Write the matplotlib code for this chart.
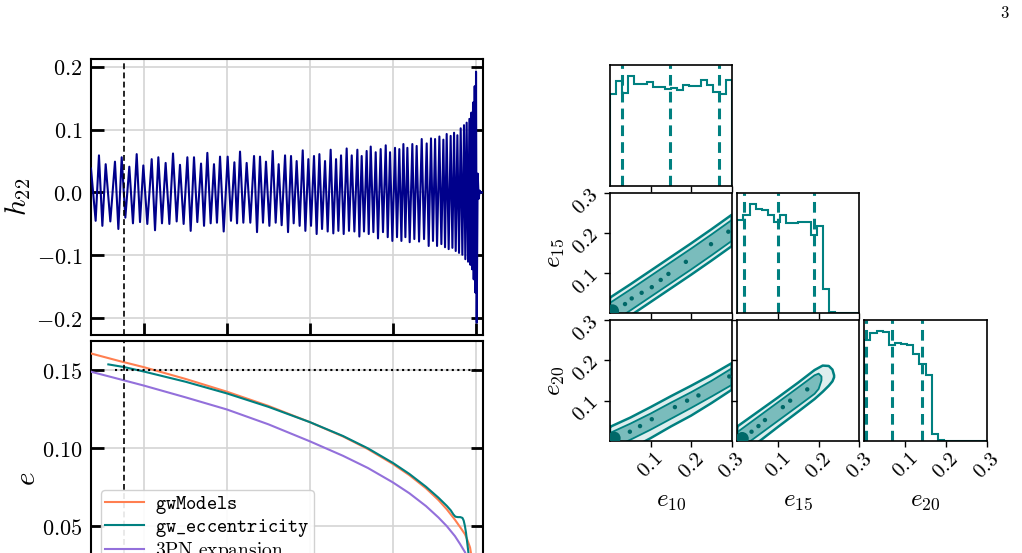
import numpy as np
import matplotlib
matplotlib.use("Agg")
import matplotlib.pyplot as plt
from matplotlib.ticker import FixedLocator, FuncFormatter

plt.rcParams['mathtext.fontset'] = 'cm'
plt.rcParams['font.family'] = ['DejaVu Serif']

# ---------------- data: h22 waveform extrema ----------------
h22_start_t = [-4639]
h22_start_h = [0.038]
h22_max_t = [-4543, -4462, -4350, -4269, -4177, -4088, -4008, -3907, -3827, -3739,
             -3650, -3566, -3477, -3397, -3312, -3236, -3156, -3083, -2991, -2910,
             -2842, -2762, -2673, -2601, -2529, -2448, -2376, -2299, -2227, -2159,
             -2086, -2018, -1950, -1885, -1817, -1749, -1684, -1624, -1556, -1495,
             -1427, -1375, -1315, -1266, -1206, -1146, -1085, -1033, -973, -921,
             -872, -824, -764, -712, -651, -591, -539, -490, -438, -390,
             -350, -302, -261, -221, -181, -141, -109, -76, -52, -32, -12, 4]
h22_max_h = [0.059, 0.045, 0.049, 0.056, 0.041, 0.061, 0.043, 0.053, 0.056, 0.047,
             0.062, 0.044, 0.056, 0.056, 0.046, 0.063, 0.045, 0.057, 0.057, 0.048,
             0.065, 0.047, 0.058, 0.057, 0.049, 0.066, 0.045, 0.059, 0.058, 0.050,
             0.067, 0.053, 0.058, 0.061, 0.050, 0.068, 0.053, 0.059, 0.070, 0.059,
             0.068, 0.058, 0.066, 0.073, 0.064, 0.069, 0.075, 0.064, 0.071, 0.069,
             0.077, 0.071, 0.077, 0.074, 0.085, 0.078, 0.086, 0.085, 0.089, 0.084,
             0.093, 0.090, 0.095, 0.091, 0.102, 0.107, 0.111, 0.117, 0.127, 0.143, 0.169, 0.192]
h22_min_t = [-4583, -4502, -4406, -4309, -4225, -4133, -4048, -3960, -3867, -3783,
             -3694, -3606, -3522, -3437, -3357, -3276, -3196, -3120, -3039, -2951,
             -2878, -2802, -2718, -2637, -2565, -2488, -2412, -2340, -2263, -2195,
             -2123, -2054, -1986, -1918, -1853, -1785, -1717, -1656, -1592, -1528,
             -1463, -1403, -1347, -1290, -1234, -1178, -1118, -1061, -1005, -949,
             -896, -848, -796, -740, -683, -623, -567, -515, -466, -414,
             -370, -326, -281, -241, -201, -161, -125, -92, -64, -44, -24, -4, 12]
h22_min_h = [-0.045, -0.053, -0.046, -0.058, -0.040, -0.049, -0.047, -0.050, -0.060, -0.049,
             -0.050, -0.046, -0.050, -0.061, -0.047, -0.053, -0.049, -0.048, -0.062, -0.045,
             -0.049, -0.048, -0.048, -0.063, -0.048, -0.053, -0.048, -0.052, -0.063, -0.049,
             -0.053, -0.061, -0.053, -0.066, -0.058, -0.062, -0.065, -0.061, -0.066, -0.061,
             -0.062, -0.070, -0.062, -0.066, -0.063, -0.073, -0.063, -0.071, -0.077, -0.071,
             -0.077, -0.071, -0.079, -0.074, -0.078, -0.074, -0.085, -0.077, -0.085, -0.082,
             -0.087, -0.090, -0.088, -0.093, -0.096, -0.099, -0.106, -0.110, -0.115, -0.122,
             -0.138, -0.159, -0.207]
h22_tail_t = [24, 36, 48, 60, 88]
h22_tail_h = [0.03, -0.01, 0.003, 0.0, 0.0]
t_ref = -4241          # dashed vertical marker
e_ref = 0.15           # dotted horizontal marker
e_ref_t = [-4350, 0]

# ---------------- data: eccentricity curves ----------------
gwm_t = [-4639, -4300, -4000, -3500, -3000, -2500, -2000, -1600, -1300, -1000, -800, -600,
         -450, -350, -250, -180, -129, -100, -68, -30, 0]
gwm_e = [0.1606, 0.1558, 0.1518, 0.1443, 0.1361, 0.1270, 0.1166, 0.1074, 0.0993, 0.0898,
         0.0826, 0.0742, 0.0667, 0.0608, 0.0540, 0.0487, 0.0447, 0.0410, 0.0362, 0.0240, 0.0]
gwe_t = [-4430, -4241, -4000, -3500, -3000, -2500, -2000, -1600, -1300, -1000, -800, -600,
         -450, -350, -300, -270, -245, -215, -185, -160, -145, -130, -117, -100, -88, -60, -30, 0]
gwe_e = [0.1536, 0.1519, 0.1490, 0.1425, 0.1350, 0.1264, 0.1166, 0.1077, 0.0998, 0.0905,
         0.0834, 0.0752, 0.0682, 0.0630, 0.0600, 0.0575, 0.0560, 0.0557, 0.0557, 0.0552,
         0.0535, 0.0500, 0.0457, 0.0383, 0.0330, 0.0240, 0.0140, 0.0]
pn_t = [-4639, -4300, -4000, -3500, -3000, -2500, -2000, -1600, -1300, -1000, -800, -600,
        -450, -350, -250, -189, -129, -80, -30, 0]
pn_e = [0.1489, 0.1442, 0.1400, 0.1325, 0.1247, 0.1152, 0.1043, 0.0950, 0.0872, 0.0780,
        0.0710, 0.0628, 0.0555, 0.0500, 0.0435, 0.0385, 0.0332, 0.0267, 0.0176, 0.0]
legend_labels = [r'$\mathtt{gwModels}$', r'$\mathtt{gw\_eccentricity}$', r'$\mathrm{3PN\ expansion}$']

# ---------------- data: corner plot ----------------
par_labels = [r'$e_{10}$', r'$e_{15}$', r'$e_{20}$']
corner_ticks = [0.1, 0.2, 0.3]
hist_e10 = [278, 315, 281, 331, 308, 308, 312, 299, 298, 291, 294, 288, 304, 301, 300, 318, 303, 283, 276, 320]
hist_e15 = [280, 297, 330, 315, 312, 295, 275, 297, 272, 273, 275, 275, 235, 262, 72, 5, 2, 0, 0, 0]
hist_e20 = [303, 326, 331, 328, 290, 296, 293, 288, 263, 233, 198, 20, 4, 1, 0, 0, 0, 0, 0, 0]
quant_e10 = [0.030, 0.148, 0.269]
quant_e15 = [0.017, 0.099, 0.189]
quant_e20 = [0.004, 0.068, 0.142]

# contour bands (e_x, upper/lower boundaries)
b1015_x = [0.0, 0.05, 0.10, 0.15, 0.20, 0.25, 0.30]
b1015_out_hi = [0.039, 0.072, 0.106, 0.140, 0.174, 0.209, 0.245]
b1015_out_lo = [-0.039, -0.006, 0.028, 0.062, 0.096, 0.131, 0.167]
b1015_in_hi = [0.026, 0.059, 0.093, 0.127, 0.161, 0.196, 0.232]
b1015_in_lo = [-0.026, 0.007, 0.041, 0.075, 0.109, 0.144, 0.180]
d1015_x = [0.037, 0.0535, 0.078, 0.103, 0.125, 0.144, 0.187, 0.249, 0.2917]
d1015_y = [0.023, 0.037, 0.051, 0.065, 0.083, 0.098, 0.128, 0.172, 0.203]

b1020_x = [0.0, 0.05, 0.10, 0.15, 0.20, 0.25, 0.30]
b1020_out_hi = [0.035, 0.058, 0.084, 0.111, 0.137, 0.164, 0.193]
b1020_out_lo = [-0.040, -0.020, 0.007, 0.036, 0.063, 0.094, 0.127]
b1020_in_hi = [0.020, 0.043, 0.068, 0.095, 0.121, 0.149, 0.180]
b1020_in_lo = [-0.020, 0.003, 0.028, 0.055, 0.082, 0.110, 0.139]
d1020_x = [0.049, 0.074, 0.103, 0.160, 0.190, 0.218, 0.294]
d1020_y = [0.023, 0.037, 0.054, 0.084, 0.100, 0.113, 0.160]

b1520_x = [0.0, 0.05, 0.10, 0.15, 0.19, 0.21, 0.225, 0.234, 0.238]
b1520_out_hi = [0.036, 0.072, 0.108, 0.145, 0.176, 0.187, 0.186, 0.177, 0.163]
b1520_out_lo = [-0.042, -0.004, 0.035, 0.073, 0.104, 0.122, 0.137, 0.148, 0.158]
b1520_in_x = [0.0, 0.05, 0.10, 0.15, 0.19, 0.20, 0.207]
b1520_in_hi = [0.022, 0.059, 0.096, 0.133, 0.163, 0.167, 0.160]
b1520_in_lo = [-0.024, 0.013, 0.050, 0.087, 0.117, 0.129, 0.150]
d1520_x = [0.035, 0.052, 0.068, 0.112, 0.130, 0.172]
d1520_y = [0.023, 0.037, 0.052, 0.084, 0.100, 0.128]
blob_xy = {(1, 0): (0.006, 0.006), (2, 0): (0.010, 0.007), (2, 1): (0.012, 0.006)}

# ---------------- figure ----------------
W, H = 1022, 553
fig = plt.figure(figsize=(W / 100, H / 100), dpi=100)


def ax_px(x0, y0, x1, y1):
    return fig.add_axes([x0 / W, 1 - y1 / H, (x1 - x0) / W, (y1 - y0) / H])


TEAL = '#008080'
GRID = '#d4d4d4'

# ---- top: waveform ----
ax1 = ax_px(91, 59.3, 483, 335)
t_all = np.concatenate([h22_start_t, h22_max_t, h22_min_t, h22_tail_t])
h_all = np.concatenate([h22_start_h, h22_max_h, h22_min_h, h22_tail_h])
order = np.argsort(t_all, kind='stable')
ax1.plot(t_all[order], h_all[order], color='#00008B', lw=1.5, zorder=3)
ax1.axvline(t_ref, color='k', lw=1.2, ls=(0, (3.5, 2)), zorder=4)
ax1.set_xlim(-4639, 88)
ax1.set_ylim(-0.2265, 0.2117)
ax1.set_yticks([-0.2, -0.1, 0.0, 0.1, 0.2])
ax1.yaxis.set_major_formatter(FuncFormatter(lambda v, p: f'${v:.1f}$'))
ax1.set_xticks([-4000, -3000, -2000, -1000, 0])
ax1.set_xticklabels([])
ax1.set_ylabel(r'$h_{22}$', fontsize=21, labelpad=2)

# ---- bottom: eccentricity ----
ax2 = ax_px(91, 341, 483, 616.5)
l1, = ax2.plot(gwm_t, gwm_e, color='#FF7F50', lw=1.5, zorder=3)
l2, = ax2.plot(gwe_t, gwe_e, color=TEAL, lw=1.5, zorder=3)
l3, = ax2.plot(pn_t, pn_e, color='#9370DB', lw=1.5, zorder=3)
ax2.axvline(t_ref, color='k', lw=1.2, ls=(0, (3.5, 2)), zorder=4)
ax2.hlines(e_ref, e_ref_t[0], e_ref_t[1], color='k', lw=1.5, ls=':', zorder=4)
ax2.set_xlim(-4639, 88)
ax2.set_ylim(-0.008, 0.1686)
ax2.set_yticks([0.05, 0.10, 0.15])
ax2.yaxis.set_major_formatter(FuncFormatter(lambda v, p: f'${v:.2f}$'))
ax2.set_xticks([-4000, -3000, -2000, -1000, 0])
ax2.set_xticklabels([])
ax2.set_ylabel(r'$e$', fontsize=21, labelpad=1)
leg = ax2.legend([l1, l2, l3], legend_labels, loc='upper left',
                 bbox_to_anchor=(0.0255, 0.458), borderaxespad=0, fontsize=14,
                 labelspacing=0.05, handlelength=2.0, handletextpad=0.6,
                 borderpad=0.2, framealpha=0.9, edgecolor='#cccccc', fancybox=True)

for ax in (ax1, ax2):
    ax.grid(True, color=GRID, lw=1.2)
    ax.set_axisbelow(True)
    ax.tick_params(direction='in', length=9, width=2, right=True, top=False,
                   labelsize=16, pad=6)
    for s in ax.spines.values():
        s.set_linewidth(1.5)

# ---- corner plot ----
cols = [(610, 731.7), (737.3, 859.3), (864.3, 986.7)]
rows = [(65, 186), (192.7, 313.3), (320, 441)]
edges = np.linspace(0, 0.3, 21)
hists = [hist_e10, hist_e15, hist_e20]
quants = [quant_e10, quant_e15, quant_e20]
bands = {
    (1, 0): (b1015_x, b1015_out_hi, b1015_out_lo, b1015_x, b1015_in_hi, b1015_in_lo, d1015_x, d1015_y),
    (2, 0): (b1020_x, b1020_out_hi, b1020_out_lo, b1020_x, b1020_in_hi, b1020_in_lo, d1020_x, d1020_y),
    (2, 1): (b1520_x, b1520_out_hi, b1520_out_lo, b1520_in_x, b1520_in_hi, b1520_in_lo, d1520_x, d1520_y),
}
tick_fmt = FuncFormatter(lambda v, p: f'${v:.1f}$')

for i in range(3):
    for j in range(i + 1):
        ax = ax_px(cols[j][0], rows[i][0], cols[j][1], rows[i][1])
        for s in ax.spines.values():
            s.set_linewidth(1.2)
        ax.tick_params(direction='out', length=4, width=1, labelsize=15, pad=2)
        ax.set_xlim(0, 0.3)
        ax.xaxis.set_major_locator(FixedLocator(corner_ticks))
        ax.xaxis.set_major_formatter(tick_fmt)
        if i == j:
            cnt = hists[i]
            ax.stairs(cnt, edges, color=TEAL, lw=1.5)
            ax.set_ylim(0, 1.1 * max(cnt))
            for q in quants[i]:
                ax.axvline(q, color=TEAL, lw=2.2, ls=(0, (3.5, 2)))
            ax.set_yticks([])
        else:
            bx, ohi, olo, ix, ihi, ilo, dx, dy = bands[(i, j)]
            ax.fill(np.r_[bx, bx[::-1]], np.r_[ohi, olo[::-1]], fc=TEAL, alpha=0.13, ec='none')
            ax.fill(np.r_[ix, ix[::-1]], np.r_[ihi, ilo[::-1]], fc=TEAL, alpha=0.45, ec='none')
            ax.plot(np.r_[bx, bx[::-1], bx[:1]], np.r_[ohi, olo[::-1], ohi[:1]], color=TEAL, lw=1.8)
            ax.plot(np.r_[ix, ix[::-1], ix[:1]], np.r_[ihi, ilo[::-1], ihi[:1]], color=TEAL, lw=1.3)
            ax.scatter(dx, dy, s=10, color='#006868', edgecolors='none', zorder=4)
            bxy = blob_xy[(i, j)]
            ax.scatter([bxy[0]], [bxy[1]], s=90, color='#006868', edgecolors='none', zorder=4)
            ax.set_ylim(0, 0.3)
            ax.yaxis.set_major_locator(FixedLocator(corner_ticks))
            ax.yaxis.set_major_formatter(tick_fmt)
            if j == 0:
                for lab in ax.get_yticklabels():
                    lab.set_rotation(45)
                ax.set_ylabel(par_labels[i], fontsize=18)
                ax.yaxis.set_label_coords(-0.36, 0.5)
            else:
                ax.set_yticklabels([])
        if i == 2:
            for lab in ax.get_xticklabels():
                lab.set_rotation(45)
            ax.set_xlabel(par_labels[j], fontsize=18)
            ax.xaxis.set_label_coords(0.5, -0.40)
        else:
            ax.set_xticklabels([])

fig.text(1005 / W, 1 - 13 / H, '$3$', fontsize=12, ha='center', va='center')

fig.savefig('out.png', dpi=100)
